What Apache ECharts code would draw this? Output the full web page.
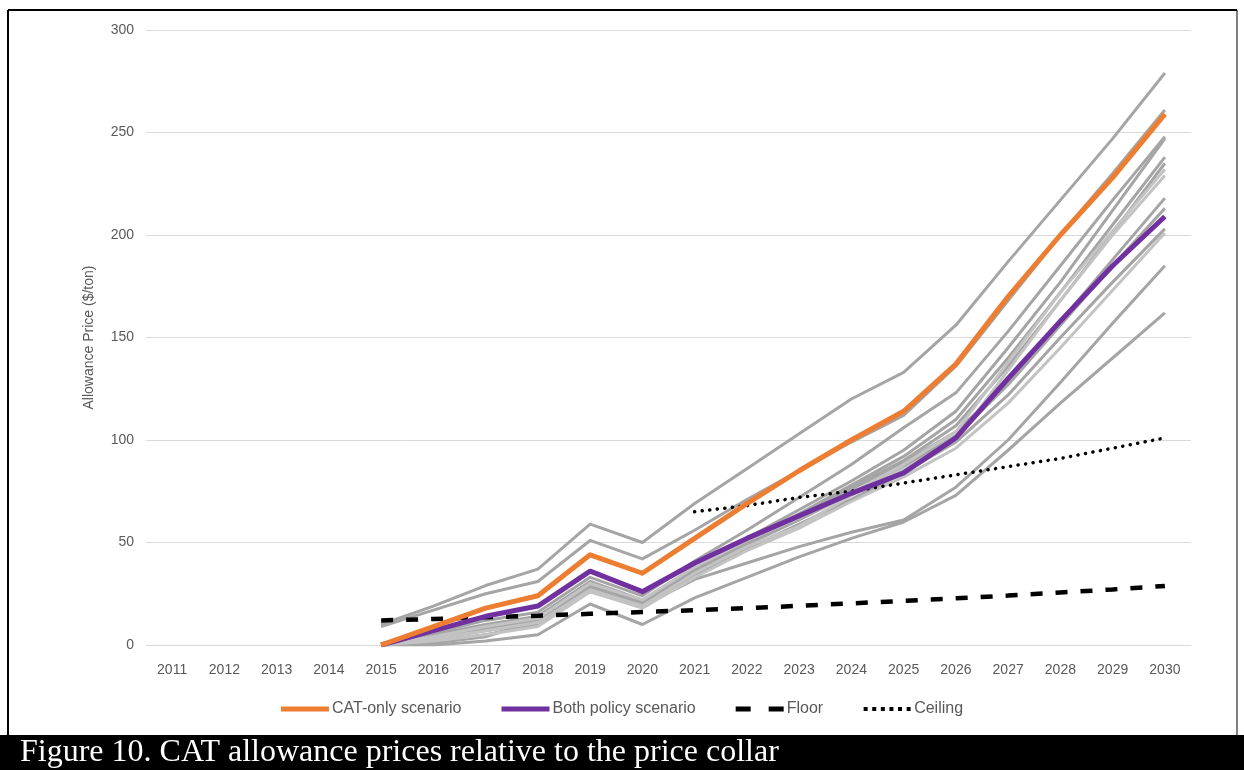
<!DOCTYPE html>
<html>
<head>
<meta charset="utf-8">
<script src="https://cdn.jsdelivr.net/npm/echarts@6/dist/echarts.min.js"></script>
<style>
  html, body { margin: 0; padding: 0; background: #fff; }
  #chart { width: 1244px; height: 770px; }
</style>
</head>
<body>
<div id="chart"></div>
<script>
// years on the x axis
const years = ['2011','2012','2013','2014','2015','2016','2017','2018','2019','2020',
               '2021','2022','2023','2024','2025','2026','2027','2028','2029','2030'];

// 2015..2030 values ($/ton)
const catOnly    = [0, 9, 18, 24, 44, 35, 52, 69, 85, 100, 114, 137, 170, 200, 228, 259];
const bothPolicy = [0, 7, 14, 19, 36, 26, 40, 52, 63, 74, 84, 101, 130, 158, 185, 209];
const floorPrice = [12, 12.7, 13.5, 14.3, 15.2, 16.1, 17, 18, 19.1, 20.3, 21.5, 22.8, 24.1, 25.6, 27.1, 28.8];
// 2021..2030
const ceilingPrice = [65, 68, 72, 75, 79, 83, 87, 91, 96, 101];

// sensitivity runs, 2015..2030
const runs = [
  [10, 19, 29, 37, 59, 50, 69, 86, 103, 120, 133, 156, 187, 217, 247, 279],
  [9, 17, 25, 31, 51, 42, 56, 71, 85, 99, 112, 136, 168, 200, 230, 261],
  [0, 6, 12, 16, 33, 24, 41, 56, 72, 88, 106, 123, 153, 185, 217, 248],
  [0, 5, 10, 14, 31, 22, 38, 52, 66, 80, 95, 114, 145, 177, 212, 247],
  [0, 5, 9, 13, 29, 21, 37, 51, 64, 78, 92, 110, 140, 172, 205, 238],
  [0, 4, 8, 12, 28, 20, 36, 50, 63, 77, 90, 107, 136, 168, 201, 235],
  [0, 4, 8, 12, 29, 21, 37, 50, 62, 76, 89, 104, 128, 158, 188, 218],
  [0, 3, 7, 11, 28, 20, 36, 49, 61, 74, 87, 102, 127, 156, 185, 213],
  [0, 2, 5, 10, 27, 19, 34, 47, 59, 71, 84, 99, 122, 150, 177, 203],
  [0, 1, 4, 12, 26, 19, 32, 40, 48, 55, 61, 77, 100, 128, 157, 185],
  [0, 0, 2, 5, 20, 10, 23, 33, 43, 52, 60, 73, 95, 118, 140, 162]
];
const lightRuns = [
  [0, 4, 9, 13, 30, 22, 38, 51, 62, 74, 88, 104, 138, 172, 202, 232],
  [0, 3, 7, 11, 27, 19, 35, 48, 58, 73, 86, 100, 134, 168, 200, 229],
  [0, 2, 5, 9, 26, 18, 33, 46, 57, 70, 82, 96, 118, 145, 173, 201]
];

const lead = [null, null, null, null];
const ceilLead = [null, null, null, null, null, null, null, null, null, null];

// legend icons (drawn into a 48x5 box)
const dashIcon = 'path://M0,0h15v5h-15z M33,0h15v5h-15z';
let dotIcon = 'path://';
for (let i = 0; i < 6; i++) {
  const cx = 2.5 + i * 8.6;
  dotIcon += 'M' + (cx - 2) + ',0.5h4v4h-4z ';
}
dotIcon += 'M0,0h0.01v5h-0.01z M47.99,0h0.01v5h-0.01z';

const chart = echarts.init(document.getElementById('chart'));

const greySeries = [];
runs.forEach((r, i) => {
  greySeries.push({
    name: 'run' + i, type: 'line', data: lead.concat(r),
    symbol: 'none', silent: true, z: 2,
    lineStyle: { color: '#a5a5a5', width: 3, join: 'round' }
  });
});
lightRuns.forEach((r, i) => {
  greySeries.push({
    name: 'light' + i, type: 'line', data: lead.concat(r),
    symbol: 'none', silent: true, z: 2,
    lineStyle: { color: '#c3c3c3', width: 3, join: 'round' }
  });
});

const txt = '#595959';

chart.setOption({
  animation: false,
  textStyle: { fontFamily: 'Liberation Sans' },
  grid: { left: 146, right: 53, top: 30, bottom: 125 },
  legend: {
    data: [
      { name: 'CAT-only scenario', icon: 'rect' },
      { name: 'Both policy scenario', icon: 'rect' },
      { name: 'Floor', icon: dashIcon },
      { name: 'Ceiling', icon: dotIcon }
    ],
    top: 696,
    left: 'center',
    itemWidth: 48,
    itemHeight: 5,
    itemGap: 40,
    textStyle: { color: txt, fontSize: 16, padding: [0, 0, 0, -2] }
  },
  xAxis: {
    type: 'category',
    data: years,
    boundaryGap: true,
    axisLine: { lineStyle: { color: '#d9d9d9', width: 1 } },
    axisTick: { show: false },
    axisLabel: { color: txt, fontSize: 14, margin: 18 }
  },
  yAxis: {
    type: 'value',
    min: 0, max: 300, interval: 50,
    name: 'Allowance Price ($/ton)',
    nameLocation: 'middle',
    nameGap: 50,
    nameTextStyle: { color: txt, fontSize: 14 },
    axisLine: { show: false },
    axisTick: { show: false },
    axisLabel: { color: txt, fontSize: 14, margin: 12 },
    splitLine: { lineStyle: { color: '#d9d9d9', width: 1 } }
  },
  series: greySeries.concat([
    {
      name: 'Floor', type: 'line', data: lead.concat(floorPrice),
      symbol: 'none', z: 3,
      lineStyle: { color: '#000', width: 4.5, type: [12, 13], cap: 'butt' },
      itemStyle: { color: '#000' }
    },
    {
      name: 'Ceiling', type: 'line', data: ceilLead.concat(ceilingPrice),
      symbol: 'none', z: 3,
      lineStyle: { color: '#000', width: 3.5, type: [0.1, 7.5], cap: 'round' },
      itemStyle: { color: '#000' }
    },
    {
      name: 'Both policy scenario', type: 'line', data: lead.concat(bothPolicy),
      symbol: 'none', z: 4,
      lineStyle: { color: '#7030a0', width: 5, join: 'round' },
      itemStyle: { color: '#7030a0' }
    },
    {
      name: 'CAT-only scenario', type: 'line', data: lead.concat(catOnly),
      symbol: 'none', z: 5,
      lineStyle: { color: '#ed7d31', width: 5, join: 'round' },
      itemStyle: { color: '#ed7d31' }
    }
  ]),
  graphic: [
    { type: 'line', shape: { x1: 8, y1: 10, x2: 1237, y2: 10 }, style: { stroke: '#000', lineWidth: 2 }, silent: true },
    { type: 'line', shape: { x1: 8, y1: 10, x2: 8, y2: 736 }, style: { stroke: '#000', lineWidth: 2 }, silent: true },
    { type: 'line', shape: { x1: 1237, y1: 10, x2: 1237, y2: 736 }, style: { stroke: '#000', lineWidth: 1 }, silent: true },
    { type: 'rect', shape: { x: 0, y: 735, width: 1244, height: 35 }, style: { fill: '#000' }, silent: true },
    {
      type: 'text', left: 20, top: 737, silent: true,
      style: {
        text: 'Figure 10. CAT allowance prices relative to the price collar',
        fill: '#fff', font: '32px "Liberation Serif"'
      }
    }
  ]
});
</script>
</body>
</html>
